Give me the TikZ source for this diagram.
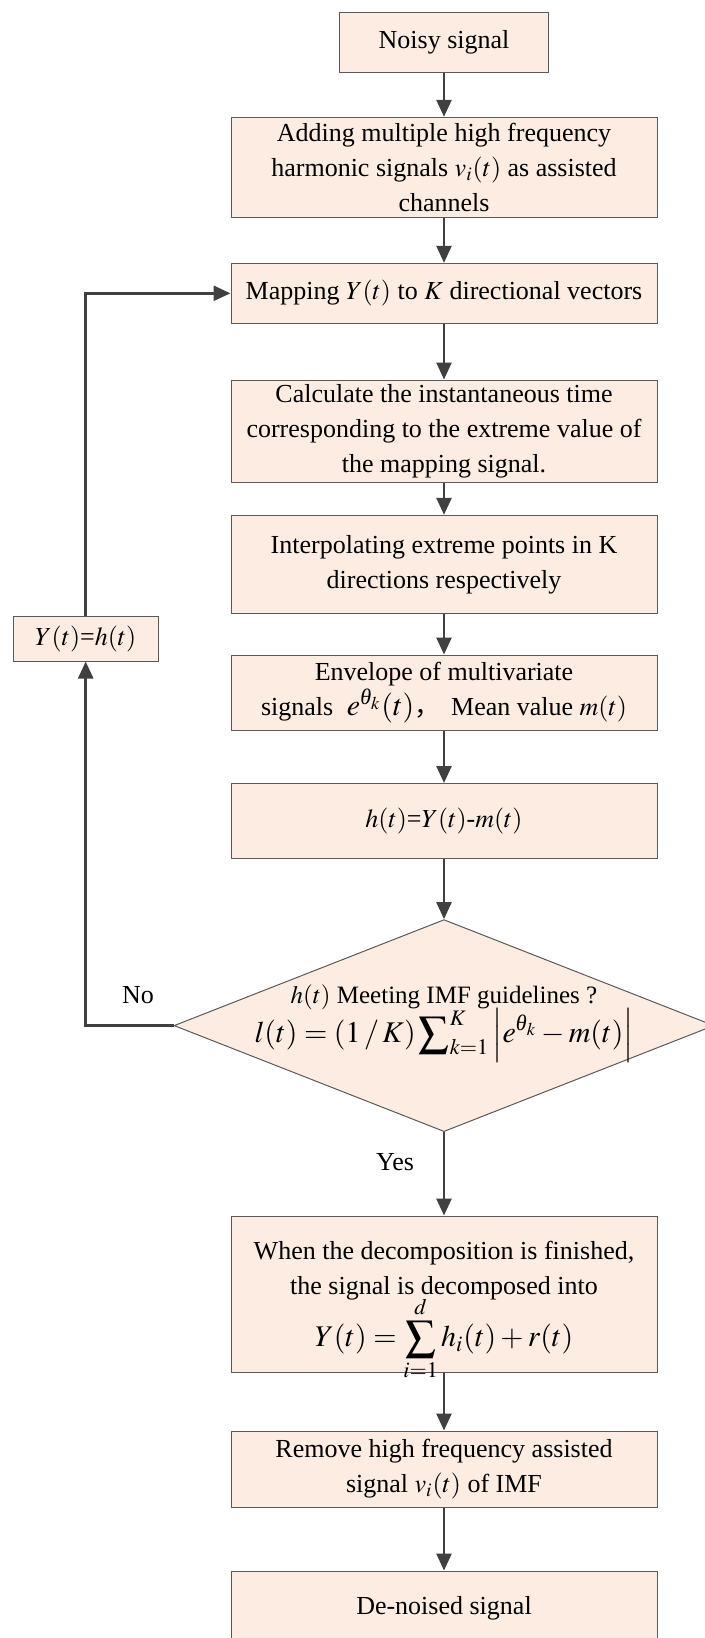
\documentclass[tikz,border=0pt]{standalone}
\usepackage{amsmath}
\usepackage{mathptmx}
\usepackage{fontspec}
\setmainfont{Liberation Serif}
\newfontfamily\cjk{Noto Sans CJK SC}
\usetikzlibrary{shapes.geometric}
\usetikzlibrary{arrows.meta}

\definecolor{boxfill}{RGB}{252,236,225}
\definecolor{boxline}{RGB}{90,90,90}
\definecolor{flowline}{RGB}{64,64,64}

\tikzset{
  stepbox/.style={draw=boxline, line width=0.5pt, fill=boxfill, inner sep=0pt, align=center},
  decision/.style={diamond, draw=boxline, line width=0.5pt, fill=boxfill, inner sep=0pt},
  flow/.style={draw=flowline, line width=1.3pt, -{Triangle[length=8.5pt,width=7.5pt]}},
}

\begin{document}
\begin{tikzpicture}[x=0.5pt, y=-0.5pt, font=\fontsize{13}{17.5}\selectfont]
            \useasboundingbox (0,0) rectangle (705,1638);

            % main column of steps
            \node[stepbox, minimum width=104.5pt, minimum height=30pt] (noisy) at (444,42) {Noisy signal};
            \node[stepbox, minimum width=213pt, minimum height=50pt] (adding) at (444,167.3)
              {Adding multiple high frequency\\ harmonic signals $v_i(t)$ as assisted\\ channels};
            \node[stepbox, minimum width=213pt, minimum height=30pt] (mapping) at (444,293.3)
              {Mapping $Y(t)$ to $K$ directional vectors};
            \node[stepbox, minimum width=213pt, minimum height=51pt] (calc) at (444,431)
              {Calculate the instantaneous time\\ corresponding to the extreme value of\\ the mapping signal.};
            \node[stepbox, minimum width=213pt, minimum height=49pt] (interp) at (444,564.3)
              {Interpolating extreme points in K\\ directions respectively};
            \node[stepbox, minimum width=213pt, minimum height=37.5pt] (envelope) at (444,692.5)
              {Envelope of multivariate\\ signals \;{\fontsize{15}{17}\selectfont$e^{\textit{θ}_k}(t)$}{\cjk ，}\, Mean value $m(t)$};
            \node[stepbox, minimum width=213pt, minimum height=37.5pt] (hbox) at (444,821)
              {$h(t)$=$Y(t)$-$m(t)$};

            % check of the IMF condition
            \node[decision, minimum width=270pt, minimum height=106pt] (check) at (444,1025.6) {};
            \node[align=center] (checktext) at (444,1023.5)
              {{\fontsize{12.5}{14}\selectfont $h(t)$ Meeting IMF guidelines ?}\\[-1.7pt]
               {\fontsize{15}{18}\selectfont $l(t)=(1\,/\,K)\displaystyle\sum\nolimits_{k=1}^{K}\left|e^{\textit{θ}_k}-m(t)\right|$}};

            \node[stepbox, minimum width=213pt, minimum height=78pt] (result) at (444,1294)
              {When the decomposition is finished,\\ the signal is decomposed into\\[-3pt]
               {\fontsize{15}{18}\selectfont $\smash[b]{\displaystyle Y(t)=\sum_{i=1}^{d}h_i(t)+r(t)}$}};
            \node[stepbox, minimum width=213pt, minimum height=38pt] (remove) at (444,1469)
              {Remove high frequency assisted\\ signal $v_i(t)$ of IMF};
            \node[stepbox, minimum width=213pt, minimum height=37.5pt] (denoised) at (444,1608.5)
              {De-noised signal};

            % side box of the loop
            \node[stepbox, minimum width=72.5pt, minimum height=22.5pt] (update) at (85.7,638.5) {$Y(t)$=$h(t)$};

            \node (no) at (138,995) {No};
            \node (yes) at (395,1162) {Yes};

            % arrows
            \draw[flow] (noisy) -- (adding);
            \draw[flow] (adding) -- (mapping);
            \draw[flow] (mapping) -- (calc);
            \draw[flow] (calc) -- (interp);
            \draw[flow] (interp) -- (envelope);
            \draw[flow] (envelope) -- (hbox);
            \draw[flow] (hbox) -- (check.north);
            \draw[flow] (check.south) -- (result);
            \draw[flow] (result) -- (remove);
            \draw[flow] (remove) -- (denoised);
            \draw[flow] (check.west) -| (update.south);
            \draw[flow] (update.north) |- (mapping.west);

\end{tikzpicture}
\end{document}
